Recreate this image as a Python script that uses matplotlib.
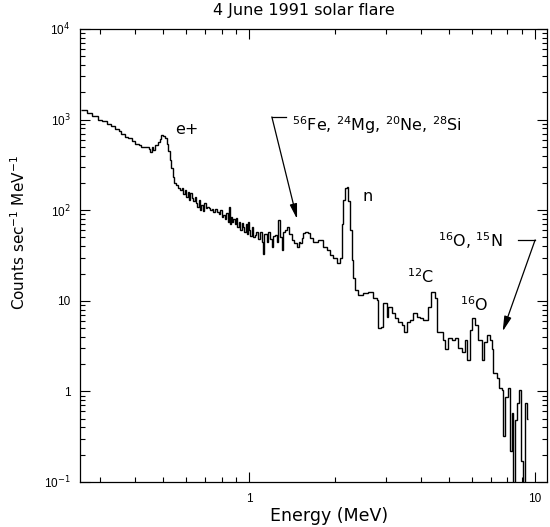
import matplotlib
matplotlib.use("Agg")
import matplotlib.pyplot as plt

plt.rcParams['font.family'] = ['Liberation Sans', 'DejaVu Sans']
plt.rcParams['mathtext.fontset'] = 'dejavusans'

# spectrum: left bin edge (MeV) and counts/s/MeV
energy = [
    0.259, 0.270, 0.281, 0.296, 0.305, 0.318, 0.329, 0.340, 0.350, 0.357,
    0.368, 0.378, 0.389, 0.399, 0.410, 0.419, 0.433, 0.445, 0.451, 0.457,
    0.462, 0.470, 0.481, 0.487, 0.492, 0.500, 0.508, 0.515, 0.521, 0.528,
    0.534, 0.540, 0.547, 0.556, 0.565, 0.574, 0.581, 0.588, 0.595, 0.602,
    0.609, 0.617, 0.622, 0.630, 0.637, 0.645, 0.653, 0.658, 0.665, 0.672,
    0.680, 0.690, 0.697, 0.705, 0.713, 0.722, 0.731, 0.740, 0.750, 0.760,
    0.773, 0.782, 0.792, 0.801, 0.811, 0.820, 0.830, 0.840, 0.850, 0.858,
    0.865, 0.872, 0.880, 0.890, 0.900, 0.908, 0.918, 0.930, 0.940, 0.953,
    0.962, 0.972, 0.982, 0.992, 1.000, 1.008, 1.020, 1.035, 1.049, 1.060,
    1.075, 1.093, 1.105, 1.119, 1.130, 1.150, 1.165, 1.180, 1.203, 1.215,
    1.233, 1.248, 1.263, 1.280, 1.304, 1.315, 1.335, 1.358, 1.380, 1.413,
    1.440, 1.472, 1.490, 1.508, 1.525, 1.545, 1.570, 1.608, 1.634, 1.674,
    1.743, 1.800, 1.814, 1.874, 1.920, 1.967, 2.031, 2.081, 2.114, 2.132,
    2.167, 2.202, 2.220, 2.255, 2.292, 2.310, 2.348, 2.405, 2.504, 2.607,
    2.692, 2.714, 2.803, 2.825, 2.894, 2.941, 3.038, 3.062, 3.162, 3.240,
    3.319, 3.428, 3.483, 3.568, 3.655, 3.745, 3.867, 3.962, 4.059, 4.192,
    4.226, 4.329, 4.400, 4.471, 4.544, 4.655, 4.769, 4.846, 4.964, 5.127,
    5.252, 5.380, 5.556, 5.692, 5.784, 5.925, 6.022, 6.170, 6.321, 6.528,
    6.634, 6.796, 6.962, 7.075, 7.13, 7.36, 7.48, 7.67, 7.73, 7.86,
    8.05, 8.18, 8.31, 8.38, 8.51, 8.65, 8.79, 8.93, 9.08, 9.23,
    9.38, 9.45,
]
counts = [
    1280, 1180, 1100, 1000, 960, 900, 840, 790, 740, 700,
    650, 620, 580, 540, 520, 500, 495, 470, 440, 500,
    460, 520, 560, 610, 676, 660, 620, 540, 450, 358,
    290, 232, 200, 190, 176, 165, 176, 150, 167, 140,
    158, 130, 155, 135, 125, 140, 120, 108, 130, 100,
    115, 98, 120, 105, 108, 106, 100, 104, 96, 103,
    95, 90, 100, 85, 88, 80, 92, 75, 108, 70,
    85, 74, 80, 70, 82, 66, 75, 60, 72, 65,
    58, 70, 55, 75, 60, 52, 65, 50, 53, 58,
    48, 57, 45, 33, 55, 44, 57, 48, 39, 52,
    53, 45, 78, 50, 36, 57, 60, 65, 55, 47,
    43, 39, 45, 43, 49, 56, 57, 56, 49, 45,
    47, 47, 39, 36, 32, 30, 26, 30, 70, 130,
    176, 180, 125, 60, 28, 18, 13.2, 11.6, 12.2, 12.5,
    12.5, 10.7, 10.2, 5.0, 5.1, 9.5, 6.6, 8.5, 7.3, 6.5,
    5.8, 5.4, 4.5, 5.8, 6.1, 7.3, 6.6, 6.5, 6.1, 6.1,
    8.5, 12.5, 12.5, 10.7, 4.5, 4.5, 3.7, 2.9, 3.9, 3.7,
    3.9, 3.0, 2.7, 3.7, 2.2, 4.8, 6.5, 5.4, 3.7, 2.2,
    3.5, 4.2, 3.7, 2.9, 1.6, 1.4, 1.1, 1.04, 0.32, 0.87,
    1.1, 0.22, 0.58, 0.05, 0.48, 0.74, 1.04, 0.17, 0.05, 0.74,
    0.5,
]

y_ticks = [0.1, 1, 10, 100, 1000, 10000]
y_ticklabels = ['10$^{-1}$', '1', '10', '10$^2$', '10$^3$', '10$^4$']
x_ticks = [1, 10]
x_ticklabels = ['1', '10']

wide = ['DejaVu Sans']

fig = plt.figure(figsize=(5.5, 5.27), dpi=100)
ax = fig.add_axes([0.1455, 0.0854, 0.849, 0.8596])

ax.stairs(counts, energy, baseline=None, color='black', lw=1.0)

ax.set_xscale('log')
ax.set_yscale('log')
ax.set_xlim(0.256, 11.0)
ax.set_ylim(0.1, 1e4)
ax.set_xticks(x_ticks)
ax.set_xticklabels(x_ticklabels)
ax.set_yticks(y_ticks)
ax.set_yticklabels(y_ticklabels)
ax.tick_params(which='both', direction='in', top=True, right=True,
               labelsize=8.5, width=0.8)
ax.tick_params(which='major', length=7)
ax.tick_params(which='minor', length=3.5)
ax.tick_params(axis='x', pad=8)
ax.tick_params(axis='y', pad=7)
for s in ax.spines.values():
    s.set_linewidth(0.9)

ax.set_xlabel('Energy (MeV)', fontsize=12.5, family=wide)
ax.xaxis.set_label_coords(0.533, -0.055)
ax.set_ylabel('Counts sec$^{-1}$ MeV$^{-1}$', fontsize=11, family=wide)
ax.yaxis.set_label_coords(-0.112, 0.551)
fig.text(0.553, 0.981, '4 June 1991 solar flare', ha='center', va='center',
         fontsize=11.5, family=wide)

# line labels
fs = 11.5
ax.text(0.551, 787, 'e+', fontsize=fs, va='center', family=wide)
ax.text(2.48, 140, 'n', fontsize=fs, va='center', family=wide)
ax.text(3.57, 18.5, '$^{12}$C', fontsize=fs, va='center', family=wide)
ax.text(5.47, 9.1, '$^{16}$O', fontsize=fs, va='center', family=wide)
ax.text(1.41, 870, '$^{56}$Fe, $^{24}$Mg, $^{20}$Ne, $^{28}$Si',
        fontsize=fs, va='center', family=wide)
ax.text(4.58, 46, '$^{16}$O, $^{15}$N', fontsize=fs, va='center', family=wide)

arrow = dict(arrowstyle='-|>,head_length=0.9,head_width=0.22',
             color='black', lw=0.9, shrinkA=0, shrinkB=0)
# Fe/Mg/Ne/Si leader
ax.plot([1.20, 1.34], [1070, 1070], color='black', lw=0.9)
ax.annotate('', xy=(1.47, 80), xytext=(1.20, 1070), arrowprops=arrow)
# O/N leader
ax.plot([8.72, 10.0], [47, 47], color='black', lw=0.9)
ax.annotate('', xy=(7.7, 4.6), xytext=(10.0, 47), arrowprops=arrow)

fig.savefig('out.png', dpi=100)
